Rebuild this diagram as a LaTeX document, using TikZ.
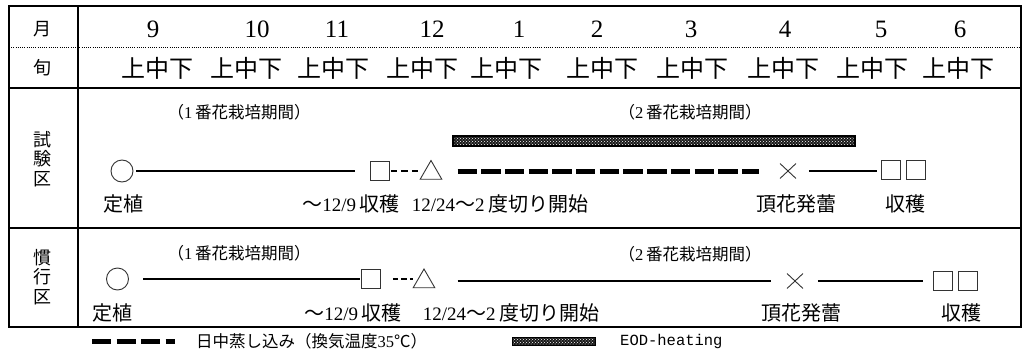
\documentclass[tikz,border=0pt]{standalone}
\usepackage{fontspec}
\newfontfamily\jp{Noto Sans CJK JP}
\newfontfamily\monof{Liberation Mono}
\newfontfamily\numf{Liberation Serif}
\usetikzlibrary{shapes.geometric,shapes.misc,patterns}
\newcommand\dgt[1]{{\numf\fontsize{19}{19}\selectfont #1}}
\newcommand\dgs[1]{{\numf\fontsize{16.5}{16.5}\selectfont #1}}
\begin{document}
\begin{tikzpicture}[x=1pt,y=-1pt,
  frameline/.style={line width=2.6pt},
  dotsep/.style={line width=0.9pt, dash pattern=on 1pt off 1.2pt},
  hd/.style={font=\jp\fontsize{18}{18}\selectfont, inner sep=0pt},
  vt/.style={font=\jp\fontsize{18}{19.5}\selectfont, align=center, inner sep=0pt},
  mon/.style={font=\numf\fontsize{25}{25}\selectfont, inner sep=0pt},
  jun/.style={font=\jp\fontsize{24}{24}\selectfont, inner sep=0pt},
  per/.style={font=\jp\fontsize{16.5}{16.5}\selectfont, inner sep=0pt},
  lab/.style={font=\jp\fontsize{20}{20}\selectfont, inner sep=0pt},
  leg/.style={font=\jp\fontsize{16.5}{16.5}\selectfont, inner sep=0pt, anchor=west},
  mk/.style={draw=black!80, line width=0.9pt, inner sep=0pt},
  circ/.style={mk, circle, minimum size=22pt},
  sq/.style={mk, rectangle, minimum size=19pt},
  tri/.style={mk, regular polygon, regular polygon sides=3, minimum size=25pt},
  xx/.style={cross out, draw=black!80, line width=0.9pt, minimum width=15pt, minimum height=14pt, inner sep=0pt},
  solidline/.style={line width=2pt},
  shortdash/.style={line width=1.2pt, dash pattern=on 6.5pt off 4pt},
  heat/.style={line width=5pt, dash pattern=on 19.4pt off 4.3pt},
  eod/.style={draw=black, fill=black!90},
  eodpat/.style={pattern=crosshatch dots, pattern color=white},
]
\useasboundingbox (0,0) rectangle (1029,359);

% table frame
\draw[frameline] (9,6) rectangle (1021,327);
\draw[frameline] (78,6) -- (78,327);
\draw[frameline] (9,88) -- (1021,88);
\draw[frameline] (9,228) -- (1021,228);
\draw[dotsep] (9,47) -- (1021,47);

% header rows
\node[hd] (hm) at (43,29) {月};
\node[hd] (hj) at (43,68) {旬};
\foreach \m/\x in {9/153,10/257,11/337,12/432,1/519,2/597,3/691,4/785,5/881,6/960}
  \node[mon] (m\m) at (\x,29) {\m};
\foreach \x [count=\i] in {157,246,333,422,506,602,692,783,872,958}
  \node[jun] (j\i) at (\x,68) {上中下};

% side labels
\node[vt] (v1) at (43,159) {試\\験\\区};
\node[vt] (v2) at (43,277) {慣\\行\\区};

% ---- test plot ----
\node[per] (p1) at (239,112) {（\dgs{1}\,番花栽培期間）};
\node[per] (p2) at (690,112) {（\dgs{2}\,番花栽培期間）};
\draw[eod, line width=1.2pt] (453,136) rectangle (855,146);
\fill[eodpat] (454.5,137.5) rectangle (853.5,144.5);

\node[circ] (a1) at (122,171) {};
\node[sq] (a2) at (380,171) {};
\node[tri] (a3) at (431,173) {};
\node[xx] (a4) at (788,171) {};
\node[sq] (a5) at (890.5,170) {};
\node[sq] (a6) at (915.5,170) {};
\draw[solidline, shorten <=3pt, shorten >=15pt] (a1.east) -- (a2.west);
\draw[shortdash, shorten <=1pt, shorten >=5pt] (a2.east) -- (a3.west |- a2.east);
\draw[heat, shorten <=18.8pt, shorten >=21pt] (a3.east |- a4.west) -- (a4.west);
\draw[solidline, shorten <=13pt, shorten >=4pt] (a4.east) -- (a5.west |- a4.east);

\node[lab] (a1t) at (123,204) {定植};
\node[lab] (a2t) at (351,204) {～\dgt{12/9}\,収穫};
\node[lab] (a3t) at (500,204) {\dgt{12/24}～\dgt{2}\,度切り開始};
\node[lab] (a4t) at (796,204) {頂花発蕾};
\node[lab] (a5t) at (905,204) {収穫};

% ---- conventional plot ----
\node[per] (q1) at (239,253) {（\dgs{1}\,番花栽培期間）};
\node[per] (q2) at (690,254) {（\dgs{2}\,番花栽培期間）};

\node[circ] (b1) at (117.5,279) {};
\node[sq] (b2) at (371,279) {};
\node[tri] (b3) at (424,281.5) {};
\node[xx] (b4) at (795,281) {};
\node[sq] (b5) at (943,281) {};
\node[sq] (b6) at (968,281) {};
\draw[solidline, shorten <=14.5pt, shorten >=1.5pt] (b1.east) -- (b2.west);
\draw[shortdash, dash pattern=on 5.5pt off 3pt, shorten <=12pt, shorten >=3pt] (b2.east) -- (b3.west |- b2.east);
\draw[solidline, shorten <=26pt, shorten >=16pt] (b3.east |- b4.west) -- (b4.west);
\draw[solidline, shorten <=15pt, shorten >=10pt] (b4.east) -- (b5.west);

\node[lab] (b1t) at (112,313) {定植};
\node[lab] (b2t) at (353,313) {～\dgt{12/9}\,収穫};
\node[lab] (b3t) at (511,313) {\dgt{12/24}～\dgt{2}\,度切り開始};
\node[lab] (b4t) at (801,313) {頂花発蕾};
\node[lab] (b5t) at (961,313) {収穫};

% ---- legend ----
\coordinate (lg1) at (92,341);
\coordinate (lg2) at (175,341);
\draw[heat, dash pattern=on 19pt off 5.5pt] (lg1) -- (lg2);
\node[leg] (lt1) at (196,341) {日中蒸し込み（換気温度\dgs{35}℃）};
\draw[eod, line width=1pt] (512,337) rectangle (595,345);
\fill[eodpat] (513,338) rectangle (594,344);
\node[leg, font=\monof\fontsize{15.5}{15.5}\selectfont] (lt2) at (620,341) {EOD-heating};
\end{tikzpicture}
\end{document}
